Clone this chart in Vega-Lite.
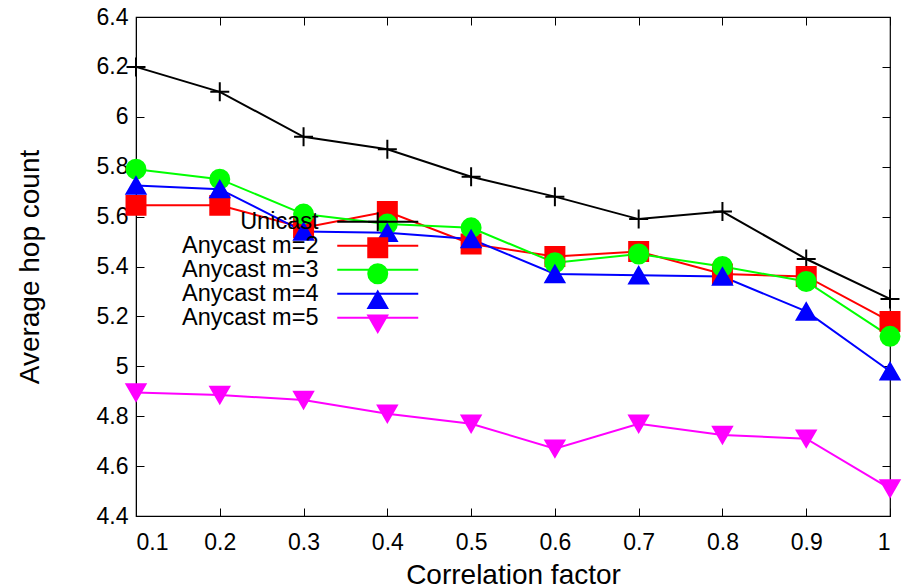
{
  "$schema": "https://vega.github.io/schema/vega-lite/v6.json",
  "width": 754,
  "height": 499,
  "autosize": "none",
  "padding": {"left": 136, "top": 17, "right": 13, "bottom": 72},
  "background": "white",
  "config": {
    "view": {"stroke": "black", "strokeWidth": 1.2},
    "font": "Liberation Sans",
    "axis": {
      "labelFont": "Liberation Sans",
      "labelFontSize": 23,
      "labelColor": "black",
      "titleFont": "Liberation Sans",
      "titleFontSize": 28,
      "titleFontWeight": "normal",
      "titleColor": "black",
      "domainColor": "black",
      "tickColor": "black",
      "grid": false,
      "tickSize": -8,
      "tickWidth": 1
    },
    "legend": {
      "labelFont": "Liberation Sans",
      "labelFontSize": 23.5,
      "labelColor": "black"
    }
  },
  "data": {
    "values": [
      {"x": 0.1, "series": "Unicast", "value": 6.2},
      {"x": 0.2, "series": "Unicast", "value": 6.1},
      {"x": 0.3, "series": "Unicast", "value": 5.92},
      {"x": 0.4, "series": "Unicast", "value": 5.87},
      {"x": 0.5, "series": "Unicast", "value": 5.76},
      {"x": 0.6, "series": "Unicast", "value": 5.68},
      {"x": 0.7, "series": "Unicast", "value": 5.59},
      {"x": 0.8, "series": "Unicast", "value": 5.62},
      {"x": 0.9, "series": "Unicast", "value": 5.43},
      {"x": 1.0, "series": "Unicast", "value": 5.27},
      {"x": 0.1, "series": "Anycast m=2", "value": 5.645},
      {"x": 0.2, "series": "Anycast m=2", "value": 5.645},
      {"x": 0.3, "series": "Anycast m=2", "value": 5.555},
      {"x": 0.4, "series": "Anycast m=2", "value": 5.62},
      {"x": 0.5, "series": "Anycast m=2", "value": 5.49},
      {"x": 0.6, "series": "Anycast m=2", "value": 5.44},
      {"x": 0.7, "series": "Anycast m=2", "value": 5.46},
      {"x": 0.8, "series": "Anycast m=2", "value": 5.37},
      {"x": 0.9, "series": "Anycast m=2", "value": 5.36},
      {"x": 1.0, "series": "Anycast m=2", "value": 5.18},
      {"x": 0.1, "series": "Anycast m=3", "value": 5.79},
      {"x": 0.2, "series": "Anycast m=3", "value": 5.75},
      {"x": 0.3, "series": "Anycast m=3", "value": 5.61},
      {"x": 0.4, "series": "Anycast m=3", "value": 5.57},
      {"x": 0.5, "series": "Anycast m=3", "value": 5.555},
      {"x": 0.6, "series": "Anycast m=3", "value": 5.415},
      {"x": 0.7, "series": "Anycast m=3", "value": 5.45},
      {"x": 0.8, "series": "Anycast m=3", "value": 5.4},
      {"x": 0.9, "series": "Anycast m=3", "value": 5.34},
      {"x": 1.0, "series": "Anycast m=3", "value": 5.12},
      {"x": 0.1, "series": "Anycast m=4", "value": 5.725},
      {"x": 0.2, "series": "Anycast m=4", "value": 5.71},
      {"x": 0.3, "series": "Anycast m=4", "value": 5.54},
      {"x": 0.4, "series": "Anycast m=4", "value": 5.535},
      {"x": 0.5, "series": "Anycast m=4", "value": 5.51},
      {"x": 0.6, "series": "Anycast m=4", "value": 5.37},
      {"x": 0.7, "series": "Anycast m=4", "value": 5.365},
      {"x": 0.8, "series": "Anycast m=4", "value": 5.36},
      {"x": 0.9, "series": "Anycast m=4", "value": 5.22},
      {"x": 1.0, "series": "Anycast m=4", "value": 4.98},
      {"x": 0.1, "series": "Anycast m=5", "value": 4.895},
      {"x": 0.2, "series": "Anycast m=5", "value": 4.885},
      {"x": 0.3, "series": "Anycast m=5", "value": 4.865},
      {"x": 0.4, "series": "Anycast m=5", "value": 4.81},
      {"x": 0.5, "series": "Anycast m=5", "value": 4.77},
      {"x": 0.6, "series": "Anycast m=5", "value": 4.67},
      {"x": 0.7, "series": "Anycast m=5", "value": 4.77},
      {"x": 0.8, "series": "Anycast m=5", "value": 4.725},
      {"x": 0.9, "series": "Anycast m=5", "value": 4.71},
      {"x": 1.0, "series": "Anycast m=5", "value": 4.51}
    ]
  },
  "transform": [{"calculate": "datum.series", "as": "marker"}],
  "layer": [
    {
      "layer": [
        {
          "mark": {"type": "line", "strokeWidth": 2},
          "encoding": {
            "x": {"field": "x", "type": "quantitative"},
            "y": {"field": "value", "type": "quantitative"},
            "color": {
              "field": "series", "type": "nominal",
              "sort": ["Unicast", "Anycast m=2", "Anycast m=3", "Anycast m=4", "Anycast m=5"],
              "scale": {"range": ["#000000", "#ff0000", "#00ff00", "#0000ff", "#ff00ff"]},
              "legend": {
                "title": null, "orient": "none", "legendX": 230, "legendY": 193,
                "padding": 0, "rowPadding": -11,
                "symbolType": "M-4,0H4", "symbolSize": 410, "symbolStrokeWidth": 2,
                "labelFontSize": 23.5, "labelOffset": -71, "labelAlign": "right"
              }
            }
          }
        },
        {
          "mark": {"type": "point", "filled": true, "size": 360, "opacity": 1, "strokeWidth": 2},
          "encoding": {
            "x": {"field": "x", "type": "quantitative"},
            "y": {"field": "value", "type": "quantitative"},
            "fill": {
              "field": "marker", "type": "nominal",
              "scale": {"domain": ["Unicast", "Anycast m=2", "Anycast m=3", "Anycast m=4", "Anycast m=5"],
                        "range": ["#000000", "#ff0000", "#00ff00", "#0000ff", "#ff00ff"]},
              "legend": {
                "title": null, "orient": "none", "legendX": 230, "legendY": 193,
                "padding": 0, "rowPadding": -11, "symbolSize": 360, "labelOpacity": 0,
                "labelExpr": "''",
                "labelFontSize": 23.5, "labelOffset": -71, "labelAlign": "right",
                "symbolStrokeWidth": 2
              }
            },
            "stroke": {
              "field": "marker", "type": "nominal",
              "scale": {"domain": ["Unicast", "Anycast m=2", "Anycast m=3", "Anycast m=4", "Anycast m=5"],
                        "range": ["#000000", "#ff0000", "#00ff00", "#0000ff", "#ff00ff"]},
              "legend": {
                "title": null, "orient": "none", "legendX": 230, "legendY": 193,
                "padding": 0, "rowPadding": -11, "symbolSize": 360, "labelOpacity": 0,
                "labelExpr": "''",
                "labelFontSize": 23.5, "labelOffset": -71, "labelAlign": "right",
                "symbolStrokeWidth": 2
              }
            },
            "shape": {
              "field": "marker", "type": "nominal",
              "scale": {"domain": ["Unicast", "Anycast m=2", "Anycast m=3", "Anycast m=4", "Anycast m=5"],
                        "range": ["M-1,0H1M0,-1V1", "square", "circle", "triangle-up", "triangle-down"]},
              "legend": {
                "title": null, "orient": "none", "legendX": 230, "legendY": 193,
                "padding": 0, "rowPadding": -11, "symbolSize": 360, "labelOpacity": 0,
                "labelExpr": "''",
                "labelFontSize": 23.5, "labelOffset": -71, "labelAlign": "right",
                "symbolStrokeWidth": 2
              }
            }
          }
        }
      ],
      "encoding": {
        "x": {
          "field": "x", "type": "quantitative",
          "scale": {"domain": [0.1, 1.0], "nice": false, "zero": false},
          "axis": {"title": "Correlation factor", "values": [0.1, 0.2, 0.3, 0.4, 0.5, 0.6, 0.7, 0.8, 0.9, 1.0],
                   "format": ".1~f", "labelPadding": 23, "titlePadding": 7, "orient": "bottom"}
        },
        "y": {
          "field": "value", "type": "quantitative",
          "scale": {"domain": [4.4, 6.4], "nice": false, "zero": false},
          "axis": {"title": "Average hop count", "values": [4.4, 4.6, 4.8, 5.0, 5.2, 5.4, 5.6, 5.8, 6.0, 6.2, 6.4],
                   "format": ".1~f", "labelPadding": 16, "titlePadding": 52, "orient": "left"}
        }
      }
    },
    {
      "mark": {"type": "point", "opacity": 0},
      "encoding": {
        "x": {"field": "x", "type": "quantitative",
              "scale": {"domain": [0.1, 1.0], "nice": false, "zero": false},
              "axis": {"orient": "top", "title": null, "labels": false, "domain": false,
                       "values": [0.1, 0.2, 0.3, 0.4, 0.5, 0.6, 0.7, 0.8, 0.9, 1.0]}},
        "y": {"field": "value", "type": "quantitative",
              "scale": {"domain": [4.4, 6.4], "nice": false, "zero": false},
              "axis": {"orient": "right", "title": null, "labels": false, "domain": false,
                       "values": [4.4, 4.6, 4.8, 5.0, 5.2, 5.4, 5.6, 5.8, 6.0, 6.2, 6.4]}}
      }
    }
  ],
  "resolve": {"scale": {"x": "independent", "y": "independent"}}
}
